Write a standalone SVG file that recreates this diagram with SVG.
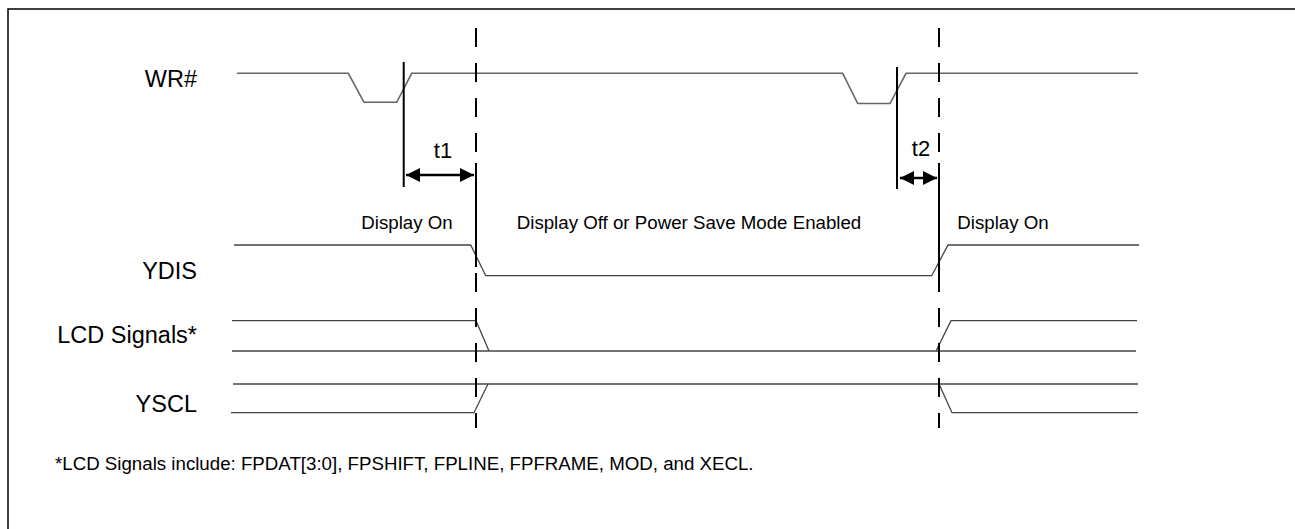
<svg xmlns="http://www.w3.org/2000/svg" width="1295" height="529" viewBox="0 0 1295 529">
<defs>
<marker id="ah" viewBox="0 0 14 14" refX="14" refY="7" markerWidth="14" markerHeight="14" markerUnits="userSpaceOnUse" orient="auto-start-reverse">
<path d="M0,0 L14,7 L0,14 Z" fill="#000"/>
</marker>
<style>
.sig{fill:none;stroke:#444;stroke-width:1.3}
.wr{fill:none;stroke:#666;stroke-width:1.6}
.solid{stroke:#000;stroke-width:2;fill:none}
.dash{stroke:#000;stroke-width:2;stroke-dasharray:19 16;fill:none}
.lbl{font-family:"Liberation Sans",Arial,sans-serif;font-size:23.5px;fill:#000}
.tt{font-family:"Liberation Sans",Arial,sans-serif;font-size:22px;fill:#000}
.sm{font-family:"Liberation Sans",Arial,sans-serif;font-size:18.7px;fill:#000}
.ft{font-family:"Liberation Sans",Arial,sans-serif;font-size:18.7px;fill:#000}
</style>
</defs>
<rect width="1295" height="529" fill="#fff"/>
<path d="M8,529 V9 H1295" fill="none" stroke="#000" stroke-width="1.5"/>
<g id="labels">
<text class="lbl" x="197" y="87" text-anchor="end">WR#</text>
<text class="lbl" x="197" y="279" text-anchor="end">YDIS</text>
<text class="lbl" x="197" y="343" text-anchor="end">LCD Signals*</text>
<text class="lbl" x="197" y="412" text-anchor="end">YSCL</text>
</g>
<g id="wr">
<path class="wr" d="M237,73.3 H348.3 L364,102.3 H396.7 L411.7,73.3 H842.7 L857.7,103.5 H890 L906,73.3 H1138"/>
</g>
<g id="ydis">
<path class="sig" d="M234,245 H470.7 L485.7,275.7 H931.7 L948,245 H1139"/>
</g>
<g id="lcd">
<path class="sig" d="M232,320.7 H476 L489,351"/>
<path class="sig" d="M232,351 H1136"/>
<path class="sig" d="M936,351 L951,320.7 H1137"/>
</g>
<g id="yscl">
<path class="sig" d="M233,384 H1138"/>
<path class="sig" d="M231,412.7 H474 L488,384"/>
<path class="sig" d="M939,384 L952,412.7 H1138"/>
</g>
<g id="markers">
<line class="dash" x1="476" y1="28" x2="476" y2="428"/>
<line class="dash" x1="939" y1="28" x2="939" y2="428"/>
<line class="solid" x1="476" y1="163" x2="476" y2="267"/>
<line class="solid" x1="939" y1="163" x2="939" y2="287"/>
<line class="solid" x1="403.7" y1="62" x2="403.7" y2="187"/>
<line class="solid" x1="897" y1="67" x2="897" y2="189"/>
</g>
<g id="connectors">
<line x1="406" y1="175" x2="474" y2="175" stroke="#000" stroke-width="2.5" marker-start="url(#ah)" marker-end="url(#ah)"/>
<line x1="900" y1="178" x2="937" y2="178" stroke="#000" stroke-width="2.5" marker-start="url(#ah)" marker-end="url(#ah)"/>
</g>
<g id="timing-labels">
<text class="tt" x="443" y="158" text-anchor="middle">t1</text>
<text class="tt" x="921" y="156" text-anchor="middle">t2</text>
<text class="sm" x="407" y="229" text-anchor="middle">Display On</text>
<text class="sm" x="689" y="229" text-anchor="middle">Display Off or Power Save Mode Enabled</text>
<text class="sm" x="1003" y="229" text-anchor="middle">Display On</text>
</g>
<g id="footnote">
<text class="ft" x="55" y="470">*LCD Signals include: FPDAT[3:0], FPSHIFT, FPLINE, FPFRAME, MOD, and XECL.</text>
</g>
</svg>
